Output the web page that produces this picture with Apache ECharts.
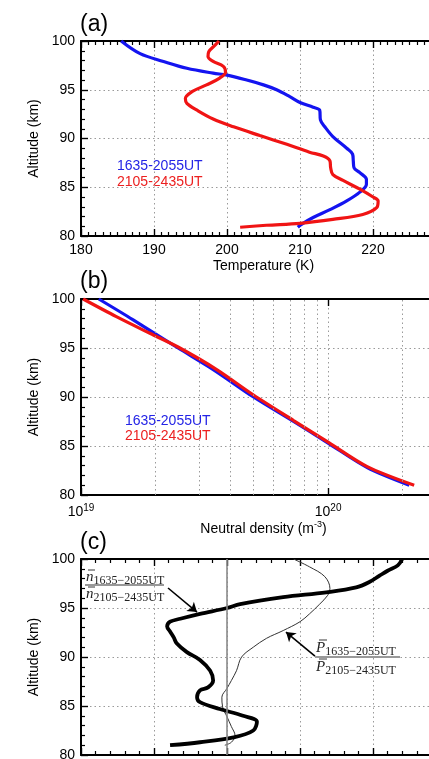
<!DOCTYPE html>
<html><head><meta charset="utf-8">
<script src="https://cdn.jsdelivr.net/npm/echarts@6/dist/echarts.min.js"></script>
<style>html,body{margin:0;padding:0;background:#fff}#c{width:429px;height:759px}</style>
</head><body><div id="c"></div>
<script>
// ---------- DATA ----------
// Panel (a): temperature (K) vs altitude (km)
const altBlueA  = [100, 98.7, 97.9, 97.2, 96.7, 96.5, 96.0, 95.5, 95.0, 94.3, 93.7, 93.2, 92.9, 91.9, 91.2, 90.2, 89.0, 88.4, 87.7, 87.0, 86.5, 85.8, 85.3, 84.5, 83.6, 82.7, 81.9, 81.2, 80.9];
const tempBlueA = [185.5, 188.1, 191.3, 194.5, 198.1, 200.0, 202.7, 205.0, 206.8, 208.6, 210.0, 211.8, 212.7, 212.8, 213.4, 214.5, 216.4, 217.2, 217.3, 217.4, 218.2, 219.1, 219.1, 218.2, 216.4, 214.1, 211.8, 210.2, 209.7];
const altRedA   = [100, 99.6, 98.9, 98.4, 97.9, 97.4, 96.8, 96.2, 95.5, 94.8, 94.1, 93.6, 92.9, 92.0, 91.2, 90.3, 89.4, 88.6, 88.2, 87.7, 87.0, 86.3, 85.7, 84.8, 84.0, 83.6, 82.9, 82.2, 81.7, 81.3, 81.1, 80.9];
const tempRedA  = [198.9, 198.4, 197.5, 197.4, 198.1, 199.5, 199.8, 199.0, 197.2, 195.2, 194.3, 194.5, 195.9, 198.1, 200.9, 204.5, 208.2, 211.3, 213.2, 214.1, 214.2, 214.5, 215.9, 218.2, 220.0, 220.7, 220.5, 218.6, 214.5, 210.0, 205.4, 201.8];
// Panel (b): neutral density (m^-3) vs altitude (km)
const altBlueB  = [100, 97.9, 95.0, 92.8, 90.0, 87.5, 85.3, 82.8, 81.0];
const densBlueB = [1.18e19, 1.62e19, 2.47e19, 3.43e19, 4.99e19, 7.25e19, 1.0e20, 1.44e20, 2.13e20];
const altRedB   = [100, 98.2, 96.5, 95.1, 92.8, 90.2, 87.6, 85.4, 82.9, 81.0];
const densRedB  = [1.02e19, 1.39e19, 1.90e19, 2.47e19, 3.54e19, 4.99e19, 7.25e19, 1.0e20, 1.44e20, 2.23e20];
const densGridTicks = [2e19, 3e19, 4e19, 5e19, 6e19, 7e19, 8e19, 9e19, 2e20];
// Panel (c): ratios vs altitude (km)
const altN   = [100, 99.35, 98.8, 98.3, 97.65, 97.1, 96.6, 96.1, 95.4, 95.0, 94.4, 93.9, 93.6, 93.1, 92.6, 92.0, 91.4, 90.5, 89.7, 88.6, 87.6, 86.9, 86.6, 85.9, 85.4, 84.7, 84.0, 83.4, 82.5, 81.8, 81.3, 81.0];
const ratioN = [1.0240, 1.0234, 1.0220, 1.0209, 1.0195, 1.0177, 1.0136, 1.0077, 1.0018, 1.0000, 0.9963, 0.9936, 0.9922, 0.9918, 0.9922, 0.9927, 0.9931, 0.9945, 0.9963, 0.9977, 0.9981, 0.9974, 0.9963, 0.9959, 0.9963, 0.9990, 1.0022, 1.0041, 1.0036, 1.0009, 0.9963, 0.9922];
const altP   = [100, 99.2, 98.2, 97.0, 96.3, 95.4, 94.4, 93.6, 92.7, 91.9, 91.0, 90.0, 88.6, 87.6, 86.8, 85.9, 84.9, 83.9, 82.9, 82.0, 81.3, 81.0];
const ratioP = [1.0091, 1.0113, 1.0134, 1.0141, 1.0138, 1.0127, 1.0113, 1.0100, 1.0077, 1.0054, 1.0036, 1.0020, 1.0013, 1.0006, 1.0000, 0.9993, 0.9994, 1.0000, 1.0006, 1.0011, 1.0006, 0.9997];
const unityRatio = 1.0;
const seriesNames = ['1635-2055UT', '2105-2435UT'];

// ---------- CHART ----------
const F = '"Liberation Sans", Arial, Helvetica, sans-serif';
const SERIF = '"Liberation Serif", "DejaVu Serif", serif';
const BLUE = '#1414f0', RED = '#f01414';
const zip = (xs, ys) => xs.map((x, i) => [x, ys[i]]);
const gridLine = {show: true, lineStyle: {color: '#9a9a9a', type: [1.5, 3], width: 1}};
const axLine = {show: true, onZero: false, lineStyle: {color: '#000', width: 2}};
const tick = {show: true, inside: true, length: 7, lineStyle: {color: '#000', width: 1.4}};
const minorT = (n) => ({show: true, splitNumber: n, length: 4, lineStyle: {color: '#000', width: 1.2}});
const lbl = {fontSize: 14, color: '#000', fontFamily: F};

function yAx(gi) {
  return {type: 'value', gridIndex: gi, min: 80, max: 100, interval: 5,
    name: 'Altitude (km)', nameLocation: 'middle', nameGap: 32,
    nameTextStyle: {fontSize: 14, color: '#000', fontFamily: F},
    axisLine: axLine, axisTick: tick, minorTick: minorT(5),
    axisLabel: Object.assign({margin: 6}, lbl), splitLine: gridLine};
}
function linTop(gi, min, max, interval, minorN) {
  return {type: 'value', gridIndex: gi, position: 'top', min, max, interval,
    axisLine: axLine, axisTick: tick, minorTick: minorT(minorN),
    axisLabel: {show: false}, splitLine: {show: false}};
}
const supRich = {sup: {fontSize: 10, fontFamily: F, color: '#000', padding: [0, 0, 9, 0]}};
const logFmt = v => '10{sup|' + Math.round(Math.log10(v)) + '}';
const fracRich = {v: {fontFamily: SERIF, fontStyle: 'italic', fontSize: 15, fill: '#222'},
                  s: {fontFamily: SERIF, fontSize: 12, fill: '#222', padding: [7, 0, 0, 0]}};

const option = {
  backgroundColor: '#fff',
  animation: false,
  grid: [
    {left: 81, top: 41, width: 365, height: 195, outerBoundsMode: 'none', containLabel: false},
    {left: 81, top: 299, width: 365, height: 196, outerBoundsMode: 'none', containLabel: false},
    {left: 81, top: 559, width: 365, height: 196, outerBoundsMode: 'none', containLabel: false}
  ],
  xAxis: [
    {type: 'value', gridIndex: 0, min: 180, max: 230, interval: 10,
      name: 'Temperature (K)', nameLocation: 'middle', nameGap: 23,
      nameTextStyle: {fontSize: 14, color: '#000', fontFamily: F},
      axisLine: axLine, axisTick: tick, minorTick: minorT(10),
      axisLabel: Object.assign({margin: 7}, lbl), splitLine: gridLine},
    linTop(0, 180, 230, 10, 10),
    {type: 'log', logBase: 10, gridIndex: 1, min: 1e19, max: 3e20,
      name: 'Neutral density (m{sup|-3})', nameLocation: 'middle', nameGap: 25,
      nameTextStyle: {fontSize: 14, color: '#000', fontFamily: F, rich: {sup: {fontSize: 9, fontFamily: F, color: '#000', padding: [0, 0, 8, 0]}}},
      axisLine: axLine, axisTick: tick,
      axisLabel: Object.assign({margin: 8, formatter: logFmt, rich: supRich, showMaxLabel: false}, lbl),
      splitLine: gridLine},
    {type: 'log', logBase: 10, gridIndex: 1, position: 'top', min: 1e19, max: 3e20,
      axisLine: axLine, axisTick: tick, axisLabel: {show: false}, splitLine: {show: false}},
    {type: 'value', gridIndex: 2, min: 0.98, max: 1.03, interval: 0.01,
      axisLine: axLine, axisTick: tick, minorTick: minorT(5),
      axisLabel: {show: false}, splitLine: gridLine},
    linTop(2, 0.98, 1.03, 0.01, 5)
  ],
  yAxis: [yAx(0), yAx(1), yAx(2)],
  series: [
    {type: 'line', name: seriesNames[0], xAxisIndex: 0, yAxisIndex: 0, data: zip(tempBlueA, altBlueA),
      smooth: 0.35, showSymbol: false, lineStyle: {color: BLUE, width: 3.2}, z: 3},
    {type: 'line', name: seriesNames[1], xAxisIndex: 0, yAxisIndex: 0, data: zip(tempRedA, altRedA),
      smooth: 0.35, showSymbol: false, lineStyle: {color: RED, width: 3.2}, z: 4},
    {type: 'line', name: seriesNames[0] + ' density', xAxisIndex: 2, yAxisIndex: 1, data: zip(densBlueB, altBlueB),
      smooth: 0.3, showSymbol: false, lineStyle: {color: BLUE, width: 3.2}, z: 3,
      markLine: {silent: true, symbol: 'none', label: {show: false},
        lineStyle: {color: '#9a9a9a', type: [1.5, 3], width: 1},
        data: densGridTicks.map(v => ({xAxis: v}))}},
    {type: 'line', name: seriesNames[1] + ' density', xAxisIndex: 2, yAxisIndex: 1, data: zip(densRedB, altRedB),
      smooth: 0.3, showSymbol: false, lineStyle: {color: RED, width: 3.2}, z: 4},
    {type: 'line', name: 'P ratio', xAxisIndex: 4, yAxisIndex: 2, data: zip(ratioP, altP),
      smooth: 0.35, showSymbol: false, lineStyle: {color: '#333', width: 1}, z: 3,
      markLine: {silent: true, symbol: 'none', label: {show: false},
        lineStyle: {color: '#8a8a8a', type: 'solid', width: 1.6},
        data: [{xAxis: unityRatio}]}},
    {type: 'line', name: 'n ratio', xAxisIndex: 4, yAxisIndex: 2, data: zip(ratioN, altN),
      smooth: 0.35, showSymbol: false, lineStyle: {color: '#000', width: 3.8}, z: 4,
      markLine: {silent: true, symbol: ['none', 'arrow'], symbolSize: 9, label: {show: false},
        lineStyle: {color: '#000', type: 'solid', width: 1.6},
        data: [
          [{coord: [0.99192, 97.04]}, {coord: [0.99589, 94.59]}],
          [{coord: [1.01205, 90.10]}, {coord: [1.00808, 92.55]}]
        ]}}
  ],
  graphic: [
    {type: 'text', x: 80, y: 25, style: {text: '(a)', font: '23px ' + F, fill: '#000', verticalAlign: 'middle'}},
    {type: 'text', x: 80, y: 282, style: {text: '(b)', font: '23px ' + F, fill: '#000', verticalAlign: 'middle'}},
    {type: 'text', x: 80, y: 543, style: {text: '(c)', font: '23px ' + F, fill: '#000', verticalAlign: 'middle'}},
    {type: 'text', x: 117, y: 166, style: {text: seriesNames[0], font: '14px ' + F, fill: '#2424e6', verticalAlign: 'middle'}},
    {type: 'text', x: 117, y: 182, style: {text: seriesNames[1], font: '14px ' + F, fill: '#ec2020', verticalAlign: 'middle'}},
    {type: 'text', x: 125, y: 421, style: {text: seriesNames[0], font: '14px ' + F, fill: '#2424e6', verticalAlign: 'middle'}},
    {type: 'text', x: 125, y: 436, style: {text: seriesNames[1], font: '14px ' + F, fill: '#ec2020', verticalAlign: 'middle'}},
    // fraction n-bar
    {type: 'text', x: 86, y: 577, style: {text: '{v|n}{s|1635\u22122055UT}', align: 'left', verticalAlign: 'middle', rich: fracRich}},
    {type: 'line', shape: {x1: 88, y1: 570, x2: 95, y2: 570}, style: {stroke: '#222', lineWidth: 0.9}},
    {type: 'line', shape: {x1: 85, y1: 585, x2: 164, y2: 585}, style: {stroke: '#333', lineWidth: 1}},
    {type: 'text', x: 86, y: 594, style: {text: '{v|n}{s|2105\u22122435UT}', align: 'left', verticalAlign: 'middle', rich: fracRich}},
    {type: 'line', shape: {x1: 88, y1: 587, x2: 95, y2: 587}, style: {stroke: '#222', lineWidth: 0.9}},
    // fraction P-bar
    {type: 'text', x: 316, y: 648, style: {text: '{v|P}{s|1635\u22122055UT}', align: 'left', verticalAlign: 'middle', rich: fracRich}},
    {type: 'line', shape: {x1: 319, y1: 640, x2: 327, y2: 640}, style: {stroke: '#222', lineWidth: 0.9}},
    {type: 'line', shape: {x1: 315, y1: 657, x2: 400, y2: 657}, style: {stroke: '#333', lineWidth: 1}},
    {type: 'text', x: 316, y: 667, style: {text: '{v|P}{s|2105\u22122435UT}', align: 'left', verticalAlign: 'middle', rich: fracRich}},
    {type: 'line', shape: {x1: 319, y1: 659, x2: 327, y2: 659}, style: {stroke: '#222', lineWidth: 0.9}}
  ]
};
const chart = echarts.init(document.getElementById('c'), null, {renderer: 'canvas'});
chart.setOption(option);
</script></body></html>
